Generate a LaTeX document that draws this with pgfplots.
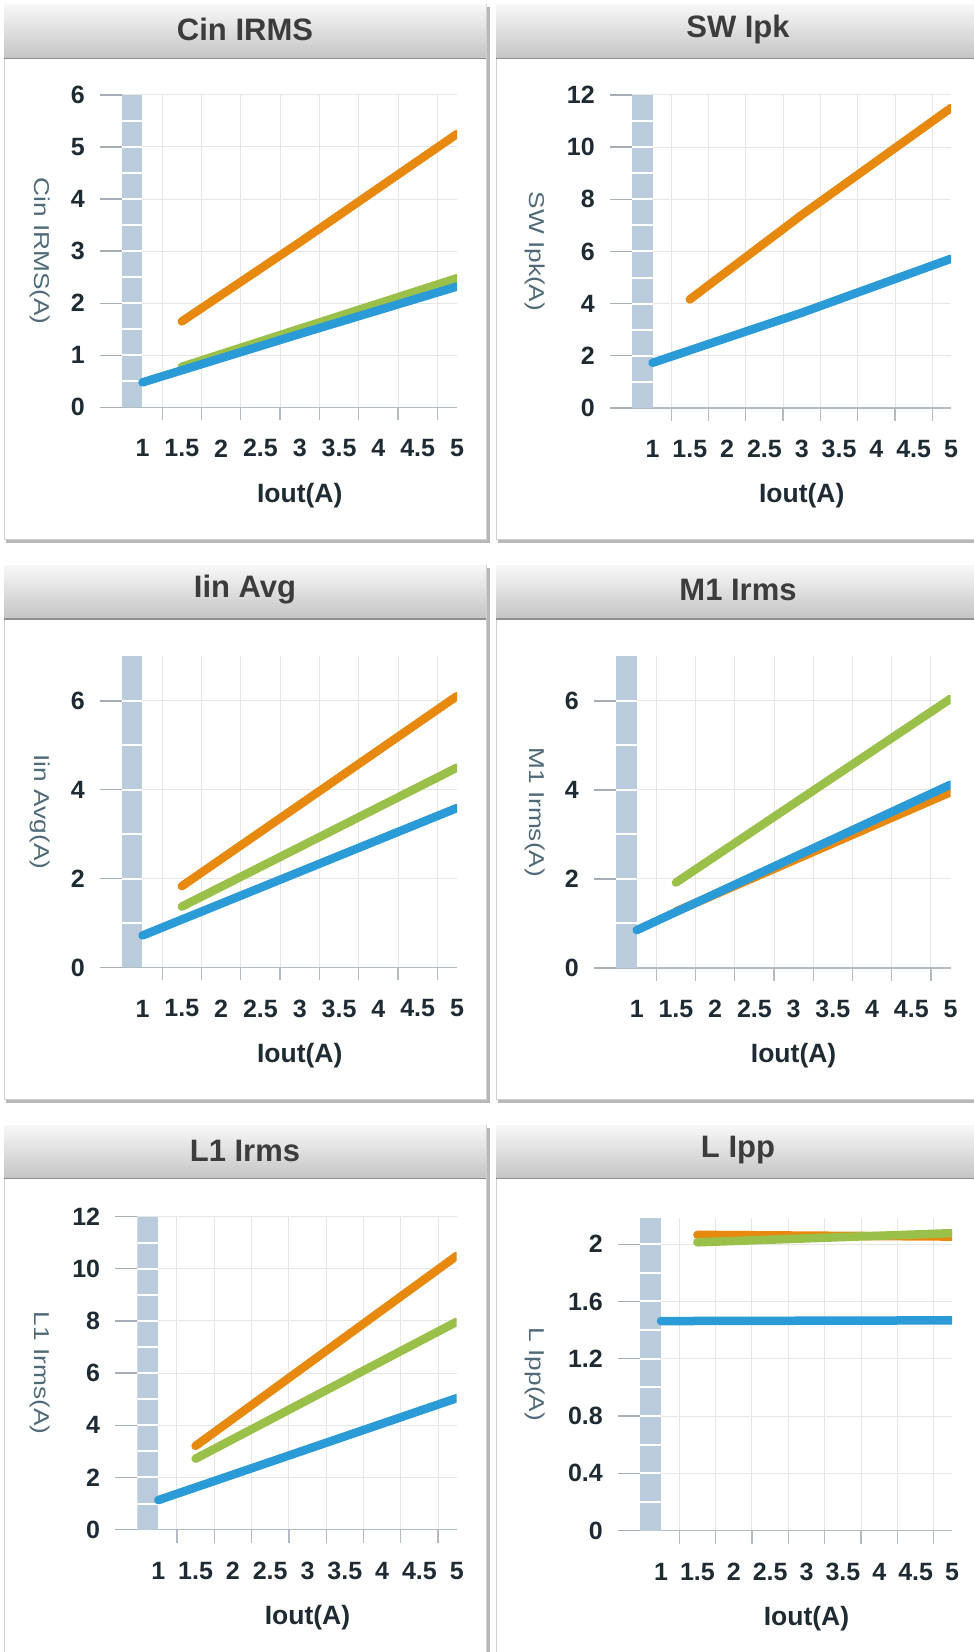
\documentclass[border=0pt]{standalone}
\usepackage{fontspec}
\setmainfont{Liberation Sans}
\newfontfamily\tickf{Liberation Sans}
\newfontfamily\ytitf{Liberation Sans}[FakeStretch=1.22]
\usepackage{pgfplots}
\pgfplotsset{compat=1.18}
\definecolor{orangeS}{HTML}{E8890F}
\definecolor{greenS}{HTML}{9BC04A}
\definecolor{blueS}{HTML}{2A9BD7}
\definecolor{bandc}{HTML}{BACBDC}
\definecolor{gridc}{HTML}{E6E6E6}
\definecolor{axisc}{HTML}{B2BAC2}
\definecolor{stubc}{HTML}{A6AEB6}
\definecolor{tickc}{HTML}{1E2B33}
\definecolor{ytitc}{HTML}{4F6A78}
\definecolor{titlec}{HTML}{3C3C3C}
\definecolor{hdtop}{HTML}{F7F7F7}
\definecolor{hdbot}{HTML}{C4C4C4}
\definecolor{hdline}{HTML}{8E8E8E}
\definecolor{borderc}{HTML}{CFCFCF}
\definecolor{shadowc}{HTML}{B8B8B8}
\pgfplotsset{
  panel/.style={
    scale only axis, anchor=south west,
    xmax=5, ymin=0,
    axis lines*=left,
    x axis line style={draw=axisc, line width=1.3pt},
    y axis line style={draw=none},
    tick align=outside,
    major tick length=22pt, minor tick length=13pt,
    xtick={1,1.5,...,5},
    xticklabels={1,1.5,2,2.5,3,3.5,4,4.5,5},
    minor xtick={1.25,1.75,...,4.75},
    major x tick style={draw=none},
    minor x tick style={draw=axisc, line width=1.3pt},
    ytick style={draw=stubc, line width=1.3pt},
    xmajorgrids=false, xminorgrids=true, ymajorgrids=true,
    minor grid style={draw=gridc, line width=1pt},
    major grid style={draw=gridc, line width=1pt},
    tick label style={font=\tickf\bfseries\fontsize{25}{25}\selectfont, text=tickc},
    yticklabel style={inner sep=0pt, anchor=east, xshift=-15pt},
    xticklabel style={inner sep=0pt, anchor=center, yshift=-19pt},
    every axis y label/.style={at={(axis description cs:0,0.5)}, anchor=center,
      font=\ytitf\fontsize{21.5}{21.5}\selectfont, text=ytitc},
    every axis x label/.style={at={(axis cs:3,0)}, anchor=center, yshift=-88pt,
      font=\bfseries\fontsize{26.5}{26.5}\selectfont, text=tickc},
    clip=true,
  },
  ser/.style={line width=8.5pt, line cap=round, line join=round},
}
\newcommand{\band}[3]{%
  \addplot[fill=bandc, draw=none] coordinates {(#1,0) (1,0) (1,#2) (#1,#2)} -- cycle;
  \pgfplotsinvokeforeach{#3}{\addplot[white, line width=2pt] coordinates {(#1,##1) (1,##1)};}
}
\begin{document}
\begin{tikzpicture}[x=1pt,y=1pt]
\useasboundingbox (0,0) rectangle (974,1652);
\fill[white] (0,0) rectangle (974,1652);
\begin{scope}
\clip (0,0) rectangle (974,1652);
\foreach \xa/\xb in {4/486, 496/982}{
 \foreach \ya/\yb/\yh in {5/540/58.4, 566/1100/619, 1126/1665/1178.5}{
   \fill[shadowc] (\xa+2, 1652-\yb-3.5) rectangle (\xb+3.5, 1652-\ya-2);
   \filldraw[fill=white, draw=borderc, line width=1pt] (\xa,1652-\yb) rectangle (\xb,1652-\ya);
   \shade[top color=hdtop, bottom color=hdbot] (\xa,1652-\yh) rectangle (\xb,1652-\ya);
   \draw[hdline, line width=1.5pt] (\xa,1652-\yh) -- (\xb,1652-\yh);
 }}
\end{scope}
\begin{scope}[every node/.style={font=\bfseries\fontsize{31}{31}\selectfont, text=titlec}]
\node at (245,1622.5) {Cin IRMS};
\node at (738,1622.5) {SW Ipk};
\node at (245,1062) {Iin Avg};
\node at (738,1062) {M1 Irms};
\node at (245,501.5) {L1 Irms};
\node at (738,501.5) {L Ipp};
\end{scope}

% Cin IRMS
\begin{axis}[panel, at={(122pt,1244.6pt)}, width=335pt, height=312.5pt,
  xmin=0.7393, ymax=6, ytick={0,1,2,3,4,5,6}, yticklabels={0,1,2,3,4,5,6},
  ylabel={Cin IRMS(A)}, ylabel style={xshift=-82pt, rotate=-90}, xlabel={Iout(A)}]
\band{0.7393}{6}{0.5,1,...,5.5}
\addplot[ser, orangeS] coordinates {(1.5,1.65) (3,3.17) (5,5.25)};
\addplot[ser, greenS] coordinates {(1.5,0.78) (3,1.51) (5,2.48)};
\addplot[ser, blueS] coordinates {(1,0.48) (3,1.41) (5,2.32)};
\end{axis}

% SW Ipk
\begin{axis}[panel, at={(632pt,1244.0pt)}, width=319pt, height=313.1pt,
  xmin=0.7253, ymax=12, ytick={0,2,4,6,8,10,12}, yticklabels={0,2,4,6,8,10,12},
  ylabel={SW Ipk(A)}, ylabel style={xshift=-97pt, rotate=-90}, xlabel={Iout(A)}]
\band{0.7253}{12}{1,2,...,11}
\addplot[ser, orangeS] coordinates {(1.5,4.16) (3,7.4) (5,11.5)};
\addplot[ser, blueS] coordinates {(1,1.73) (3,3.65) (5,5.72)};
\end{axis}

% Iin Avg
\begin{axis}[panel, at={(122pt,684.5pt)}, width=335pt, height=311pt,
  xmin=0.7393, ymax=7, ytick={0,2,4,6}, yticklabels={0,2,4,6},
  ylabel={Iin Avg(A)}, ylabel style={xshift=-82pt, rotate=-90}, xlabel={Iout(A)}]
\band{0.7393}{7}{1,2,...,6}
\addplot[ser, orangeS] coordinates {(1.5,1.83) (5,6.11)};
\addplot[ser, greenS] coordinates {(1.5,1.37) (5,4.50)};
\addplot[ser, blueS] coordinates {(1,0.72) (5,3.59)};
\end{axis}

% M1 Irms
\begin{axis}[panel, at={(616pt,684pt)}, width=334.5pt, height=311.5pt,
  xmin=0.736, ymax=7, ytick={0,2,4,6}, yticklabels={0,2,4,6},
  ylabel={M1 Irms(A)}, ylabel style={xshift=-81pt, rotate=-90}, xlabel={Iout(A)}]
\band{0.736}{7}{1,2,...,6}
\addplot[ser, orangeS] coordinates {(1.5,1.27) (5,3.95)};
\addplot[ser, greenS] coordinates {(1.5,1.92) (5,6.05)};
\addplot[ser, blueS] coordinates {(1,0.85) (5,4.12)};
\end{axis}

% L1 Irms
\begin{axis}[panel, at={(137.3pt,122.4pt)}, width=319.4pt, height=312.9pt,
  xmin=0.7185, ymax=12, ytick={0,2,4,6,8,10,12}, yticklabels={0,2,4,6,8,10,12},
  ylabel={L1 Irms(A)}, ylabel style={xshift=-97pt, rotate=-90}, xlabel={Iout(A)}]
\band{0.7185}{12}{1,2,...,11}
\addplot[ser, orangeS] coordinates {(1.5,3.21) (5,10.5)};
\addplot[ser, greenS] coordinates {(1.5,2.72) (5,7.97)};
\addplot[ser, blueS] coordinates {(1,1.13) (5,5.04)};
\end{axis}

% L Ipp
\begin{axis}[panel, at={(640pt,121.4pt)}, width=312pt, height=312.2pt,
  xmin=0.7113, ymax=2.18, ytick={0,0.4,0.8,1.2,1.6,2}, yticklabels={0,0.4,0.8,1.2,1.6,2},
  ylabel={L Ipp(A)}, ylabel style={xshift=-105pt, rotate=-90}, xlabel={Iout(A)}]
\band{0.7113}{2.18}{0.2,0.4,0.6,0.8,1.0,1.2,1.4,1.6,1.8,2.0}
\addplot[ser, orangeS] coordinates {(1.5,2.065) (5,2.053)};
\addplot[ser, greenS] coordinates {(1.5,2.013) (5,2.077)};
\addplot[ser, blueS] coordinates {(1,1.463) (5,1.468)};
\end{axis}
\end{tikzpicture}
\end{document}
